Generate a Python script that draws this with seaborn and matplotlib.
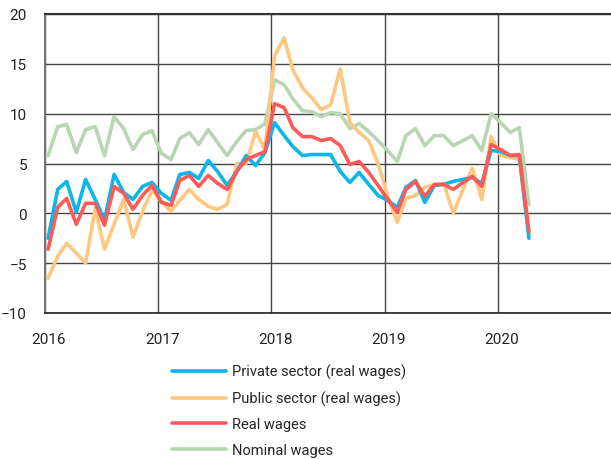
import numpy as np
import pandas as pd
import matplotlib
matplotlib.use("Agg")
import matplotlib.pyplot as plt
import matplotlib.dates as mdates
import matplotlib.transforms as mtransforms
import seaborn as sns

# ---- data (monthly, Jan 2016 - Apr 2020) ----
months = pd.date_range("2016-01-01", periods=52, freq="MS") + pd.Timedelta(days=10)

private_sector = [-2.5, 2.4, 3.2, 0.1, 3.4, 1.4, -0.7, 3.9, 2.1, 1.4, 2.7, 3.1,
                  2.0, 1.3, 3.9, 4.1, 3.5, 5.3, 4.2, 2.8, 4.2, 5.8, 4.8, 6.1,
                  9.1, 7.8, 6.7, 5.8, 5.9, 5.9, 5.9, 4.2, 3.1, 4.1, 2.9, 1.8,
                  1.3, 0.6, 2.6, 3.3, 1.1, 2.8, 2.9, 3.2, 3.4, 3.6, 3.0, 6.3,
                  6.2, 5.8, 5.8, -2.5]
public_sector = [-6.5, -4.3, -3.0, -4.0, -5.0, 0.5, -3.6, -1.1, 1.4, -2.4, 0.2, 2.3,
                 1.2, 0.2, 1.3, 2.4, 1.4, 0.7, 0.4, 0.9, 5.0, 5.0, 8.2, 6.4,
                 15.8, 17.6, 14.4, 12.6, 11.6, 10.4, 10.9, 14.5, 9.1, 8.1, 7.3, 5.0,
                 1.8, -0.9, 1.5, 1.8, 2.6, 2.9, 3.0, 0.0, 2.4, 4.5, 1.4, 7.7,
                 5.8, 5.6, 5.4, -2.0]
real_wages = [-3.6, 0.6, 1.5, -1.1, 1.0, 1.0, -1.2, 2.7, 2.0, 0.4, 1.8, 2.8,
              1.1, 0.8, 3.3, 3.8, 2.7, 3.8, 3.0, 2.4, 4.2, 5.4, 5.8, 6.2,
              11.0, 10.6, 8.6, 7.7, 7.7, 7.3, 7.5, 6.8, 4.9, 5.2, 4.1, 2.8,
              1.4, 0.1, 2.4, 3.2, 1.7, 2.9, 2.9, 2.4, 3.1, 3.7, 2.7, 6.9,
              6.4, 5.8, 5.9, -1.8]
nominal_wages = [5.8, 8.7, 8.9, 6.1, 8.4, 8.7, 5.8, 9.7, 8.5, 6.4, 7.9, 8.3,
                 6.0, 5.4, 7.5, 8.1, 6.9, 8.4, 7.1, 5.8, 7.2, 8.3, 8.4, 9.0,
                 13.4, 12.9, 11.5, 10.3, 10.2, 9.7, 10.1, 10.0, 8.5, 9.0, 8.2, 7.3,
                 6.3, 5.2, 7.8, 8.5, 6.8, 7.8, 7.8, 6.8, 7.3, 7.8, 6.3, 10.0,
                 9.1, 8.1, 8.6, 0.9]

series_names = ["Private sector (real wages)", "Public sector (real wages)",
                "Real wages", "Nominal wages"]
series_values = [private_sector, public_sector, real_wages, nominal_wages]
colors = ["#0BB7E8", "#FFC880", "#FF5A5A", "#B8D5B4"]

year_ticks = ["2016", "2017", "2018", "2019", "2020"]
y_ticks = [-10, -5, 0, 5, 10, 15, 20]

df = pd.concat([pd.DataFrame({"date": months, "series": n, "value": v})
                for n, v in zip(series_names, series_values)], ignore_index=True)

# ---- plot ----
sns.set_style("white")
plt.rcParams["font.family"] = ["Roboto", "DejaVu Sans"]

fig = plt.figure(figsize=(6.11, 4.60), dpi=100)
ax = fig.add_axes([45 / 611, 1 - 314 / 460, 1 - 45 / 611, (314 - 15) / 460])

# draw order: nominal at back, then public, private, real on top
order = ["Nominal wages", "Public sector (real wages)",
         "Private sector (real wages)", "Real wages"]
pal = dict(zip(series_names, colors))
for name in order:
    sns.lineplot(data=df[df["series"] == name], x="date", y="value",
                 color=pal[name], lw=2.6, ax=ax, legend=False)

ax.set_ylim(-10, 20)
ax.set_yticks(y_ticks)
ax.set_xlim(pd.Timestamp("2016-01-01"), pd.Timestamp("2021-01-01"))
ax.set_xticks([pd.Timestamp(y + "-01-01") for y in year_ticks])
ax.set_xticklabels(year_ticks)
ax.set_xlabel("")
ax.set_ylabel("")

ax.grid(True, axis="both", color="#444444", lw=1.0)
ax.set_axisbelow(True)
ax.spines["right"].set_visible(False)
ax.spines["top"].set_color("#333333")
ax.spines["top"].set_linewidth(1.5)
ax.spines["left"].set_color("#777777")
ax.spines["left"].set_linewidth(1.5)
ax.spines["bottom"].set_color("#222222")
ax.spines["bottom"].set_linewidth(1.2)

ax.tick_params(axis="y", length=0, pad=13, labelsize=11, colors="#222222")
ax.tick_params(axis="x", length=0, pad=14, labelsize=11, colors="#222222")
offset = mtransforms.ScaledTranslation(4 / 100, 0, fig.dpi_scale_trans)
for lab in ax.get_xticklabels():
    lab.set_transform(lab.get_transform() + offset)

handles = [plt.Line2D([], [], color=pal[n], lw=2.6) for n in series_names]
fig.legend(handles, series_names, loc="upper left",
           bbox_to_anchor=(172 / 611, 1 - 365 / 460), frameon=False,
           fontsize=10.5, handlelength=3.7, handletextpad=0.4,
           labelspacing=0.78, borderpad=0, borderaxespad=0)

fig.savefig("out.png", dpi=100)
